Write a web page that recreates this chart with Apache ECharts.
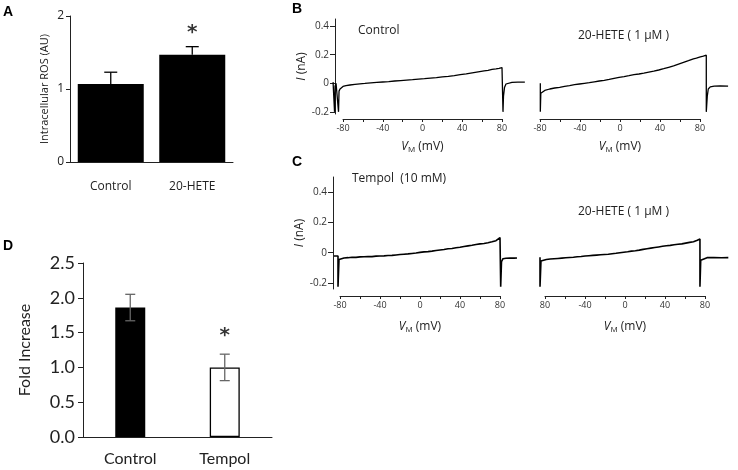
<!DOCTYPE html>
<html>
<head>
<meta charset="utf-8">
<script src="https://cdn.jsdelivr.net/npm/echarts@6/dist/echarts.min.js"></script>
<style>
html, body { margin: 0; padding: 0; background: #fff; }
#main { width: 738px; height: 470px; }
</style>
</head>
<body>
<div id="main"></div>
<script>
// panel A - intracellular ROS
var rosCats = ['Control', '20-HETE'];
var rosMean = [1.07, 1.47];
var rosErr = [0.16, 0.11];
var rosStar = [null, 1.77];

// panel D - fold increase
var foldCats = ['Control', 'Tempol'];
var foldMean = [1.86, 1.00];
var foldErr = [0.19, 0.19];
var foldStar = [null, 1.46];

// panels B, C - current traces, [mV, nA]
var vTicks = [-80, -60, -40, -20, 0, 20, 40, 60, 80];
var vLabels = [-80, -40, 0, 40, 80];
var iTicks = [-0.2, 0, 0.2, 0.4];

var traceCtrl = [[-90,0.008],[-88.5,0.006],[-88.5,-0.2],[-88,-0.02],[-87,0.0],[-85,0.002],[-84.5,-0.2],[-84,-0.055],[-83,-0.04],[-82,-0.03],[-80,-0.022],[-77,-0.016],[-73,-0.012],[-68,-0.008],[-63,-0.004],[-58,-0.001],[-52,0.003],[-46,0.006],[-40,0.009],[-34,0.012],[-28,0.016],[-22,0.019],[-16,0.022],[-10,0.025],[-4,0.029],[2,0.032],[8,0.036],[14,0.040],[20,0.045],[26,0.049],[32,0.054],[38,0.060],[44,0.066],[50,0.073],[56,0.080],[62,0.087],[66,0.091],[70,0.097],[74,0.101],[77,0.105],[80,0.11],[81,0.112],[81,-0.2],[81.5,-0.09],[82.5,-0.03],[84,-0.005],[86,0.003],[90,0.007],[96,0.008],[103,0.008]];
var traceHete = [[-79.5,0.0],[-79.5,-0.2],[-79,-0.07],[-78,-0.058],[-75,-0.05],[-70,-0.04],[-65,-0.033],[-60,-0.028],[-55,-0.021],[-50,-0.016],[-45,-0.01],[-40,-0.005],[-35,0.0],[-30,0.004],[-25,0.01],[-20,0.016],[-15,0.021],[-10,0.027],[-5,0.035],[0,0.042],[5,0.047],[10,0.053],[15,0.06],[20,0.065],[25,0.071],[30,0.078],[35,0.085],[40,0.093],[45,0.102],[50,0.112],[55,0.122],[60,0.134],[65,0.146],[70,0.158],[75,0.171],[78,0.176],[82,0.185],[85,0.19],[88,0.197],[88,-0.2],[89,-0.09],[90,-0.04],[92,-0.025],[96,-0.02],[102,-0.019],[110,-0.02]];
var traceTempol = [[-86,-0.022],[-82,-0.022],[-82,-0.225],[-81,-0.045],[-80,-0.04],[-76,-0.035],[-72,-0.033],[-68,-0.03],[-64,-0.031],[-60,-0.028],[-56,-0.027],[-52,-0.025],[-48,-0.026],[-44,-0.023],[-40,-0.022],[-36,-0.021],[-32,-0.019],[-28,-0.018],[-24,-0.015],[-20,-0.012],[-16,-0.01],[-12,-0.008],[-8,-0.005],[-4,-0.002],[0,0.002],[4,0.005],[8,0.007],[12,0.01],[16,0.014],[20,0.018],[24,0.021],[28,0.026],[32,0.028],[36,0.033],[40,0.036],[44,0.041],[48,0.045],[52,0.049],[56,0.054],[60,0.058],[62,0.064],[64,0.061],[66,0.068],[68,0.066],[70,0.074],[72,0.072],[74,0.082],[76,0.079],[78,0.092],[80,0.1],[80.7,0.095],[80.7,-0.225],[81.5,-0.06],[83,-0.04],[86,-0.037],[90,-0.035],[94,-0.036],[97,-0.035]];
var traceTempolHete = [[-84.5,-0.03],[-84.5,-0.225],[-83.5,-0.055],[-82,-0.05],[-78,-0.045],[-74,-0.042],[-70,-0.04],[-66,-0.038],[-62,-0.036],[-58,-0.034],[-54,-0.032],[-50,-0.03],[-46,-0.027],[-42,-0.025],[-38,-0.022],[-34,-0.02],[-30,-0.018],[-26,-0.016],[-22,-0.014],[-18,-0.012],[-14,-0.01],[-10,-0.007],[-6,-0.004],[-2,0.0],[2,0.003],[6,0.006],[10,0.01],[14,0.013],[18,0.017],[22,0.022],[26,0.026],[30,0.03],[34,0.034],[38,0.038],[42,0.042],[46,0.046],[50,0.048],[54,0.052],[58,0.056],[62,0.058],[66,0.063],[68,0.062],[70,0.068],[72,0.066],[74,0.072],[76,0.075],[78,0.082],[80,0.088],[80.7,0.09],[80.7,-0.225],[81.5,-0.05],[83,-0.037],[88,-0.033],[95,-0.032],[103,-0.034],[110,-0.033]];

var sans = '"Open Sans", sans-serif';
var dFont = 'Lato, sans-serif';

// trace panels: visible axis box (-80..80 mV) and a wider hidden box for the trace itself
var panels = [
    { left: 343, top: 19, width: 159, height: 95, yMin: -0.215, yMax: 0.45, xOff: 5, xGap: 21, yOff: 8, yShow: true, data: traceCtrl, lw: 1.3 },
    { left: 540, top: 19, width: 160, height: 95, yMin: -0.215, yMax: 0.45, xOff: 5, xGap: 21, yOff: 8, yShow: false, data: traceHete, lw: 1.3 },
    { left: 340, top: 177, width: 160, height: 112, yMin: -0.24, yMax: 0.5, xOff: 7, xGap: 24, yOff: 7, yShow: true, data: traceTempol, lw: 1.6 },
    { left: 545, top: 177, width: 160, height: 112, yMin: -0.24, yMax: 0.5, xOff: 7, xGap: 24, yOff: 7, yShow: false, data: traceTempolHete, lw: 1.6,
      fmt: function (v) { return v === -80 ? '80' : String(v); } }
];
var traceMin = -100, traceMax = 120;

// error bars: vertical stem + caps
function errBar(color, cap, both) {
    return function (params, api) {
        var c = api.value(0), m = api.value(1), e = api.value(2);
        var top = api.coord([c, m + e]);
        var bot = api.coord([c, both ? m - e : m]);
        var w = cap / 2;
        var st = { stroke: color, lineWidth: 1.3 };
        var kids = [
            { type: 'line', shape: { x1: top[0], y1: top[1], x2: bot[0], y2: bot[1] }, style: st },
            { type: 'line', shape: { x1: top[0] - w, y1: top[1], x2: top[0] + w, y2: top[1] }, style: st }
        ];
        if (both) kids.push({ type: 'line', shape: { x1: bot[0] - w, y1: bot[1], x2: bot[0] + w, y2: bot[1] }, style: st });
        return { type: 'group', children: kids };
    };
}

function star(idx, vals) {
    return {
        type: 'scatter', xAxisIndex: idx, yAxisIndex: idx, symbolSize: 2, z: 6,
        itemStyle: { color: 'rgba(0,0,0,0)' },
        label: { show: true, position: 'inside', formatter: '*', fontFamily: 'DejaVu Sans', fontWeight: 'bold', fontSize: 20, color: '#000' },
        data: vals.map(function (v, i) { return v == null ? null : [i, v]; }).filter(Boolean)
    };
}

var grids = [
    { left: 70, top: 16, width: 163, height: 146 },
    { left: 83, top: 263, width: 189, height: 174 }
];
var xAxes = [
    {
        type: 'category', gridIndex: 0, data: rosCats,
        axisLine: { lineStyle: { color: '#222' } }, axisTick: { show: false },
        axisLabel: { fontFamily: sans, fontSize: 12, color: '#222', margin: 19 }
    },
    {
        type: 'category', gridIndex: 1, data: foldCats,
        axisLine: { lineStyle: { color: '#222' } }, axisTick: { show: false },
        axisLabel: { fontFamily: dFont, fontSize: 16, color: '#222', margin: 14 }
    }
];
var yAxes = [
    {
        type: 'value', gridIndex: 0, min: 0, max: 2, interval: 1,
        name: 'Intracellular ROS (AU)', nameLocation: 'middle', nameGap: 20,
        nameTextStyle: { fontFamily: sans, fontSize: 11, color: '#222' },
        splitLine: { show: false },
        axisLine: { show: true, lineStyle: { color: '#222' } },
        axisTick: { show: true, length: 4, lineStyle: { color: '#222' } },
        axisLabel: { fontFamily: sans, fontSize: 12, color: '#222', margin: 6 }
    },
    {
        type: 'value', gridIndex: 1, min: 0, max: 2.5, interval: 0.5,
        name: 'Fold Increase', nameLocation: 'middle', nameGap: 50,
        nameTextStyle: { fontFamily: dFont, fontSize: 16, color: '#222' },
        splitLine: { show: false },
        axisLine: { show: true, lineStyle: { color: '#222' } },
        axisTick: { show: true, length: 5, lineStyle: { color: '#222' } },
        axisLabel: { fontFamily: dFont, fontSize: 18, color: '#222', margin: 8, formatter: function (v) { return v.toFixed(1); } }
    }
];
var series = [
    {
        type: 'bar', xAxisIndex: 0, yAxisIndex: 0, data: rosMean, barWidth: 66,
        itemStyle: { color: '#000' }
    },
    {
        type: 'custom', xAxisIndex: 0, yAxisIndex: 0, z: 5,
        renderItem: errBar('#000', 13, false),
        data: rosMean.map(function (m, i) { return [i, m, rosErr[i]]; })
    },
    star(0, rosStar),
    {
        type: 'bar', xAxisIndex: 1, yAxisIndex: 1, barWidth: 30,
        data: foldMean.map(function (m, i) {
            return { value: m, itemStyle: i === 0 ? { color: '#000' } : { color: '#fff', borderColor: '#000', borderWidth: 1.3 } };
        })
    },
    {
        type: 'custom', xAxisIndex: 1, yAxisIndex: 1, z: 5,
        renderItem: errBar('#666', 10, true),
        data: foldMean.map(function (m, i) { return [i, m, foldErr[i]]; })
    },
    star(1, foldStar)
];

panels.forEach(function (p) {
    var gi = grids.length;
    var k = p.width / 160;
    // visible axes
    grids.push({ left: p.left, top: p.top, width: p.width, height: p.height });
    xAxes.push({
        type: 'value', gridIndex: gi, min: -80, max: 80, offset: p.xOff,
        name: '{v|V}{m|M}{u| (mV)}', nameLocation: 'middle', nameGap: p.xGap,
        nameTextStyle: {
            rich: {
                v: { fontFamily: sans, fontSize: 12, fontStyle: 'italic', color: '#222' },
                m: { fontFamily: sans, fontSize: 8, color: '#222', padding: [6, 0, 0, 0] },
                u: { fontFamily: sans, fontSize: 12, color: '#222' }
            }
        },
        splitLine: { show: false },
        axisLine: { onZero: false, lineStyle: { color: '#222', width: 1 } },
        axisTick: { customValues: vTicks, length: 3, lineStyle: { color: '#222' } },
        axisLabel: { customValues: vLabels, fontFamily: sans, fontSize: 9, color: '#333', margin: 5,
            formatter: p.fmt || function (v) { return String(v); } }
    });
    yAxes.push({
        type: 'value', gridIndex: gi, min: p.yMin, max: p.yMax, offset: p.yOff, show: p.yShow,
        name: '{i|I} (nA)', nameLocation: 'middle', nameGap: 20,
        nameTextStyle: { fontFamily: sans, fontSize: 12, color: '#222',
            rich: { i: { fontFamily: sans, fontSize: 12, fontStyle: 'italic', color: '#222' } } },
        splitLine: { show: false },
        axisLine: { show: true, onZero: false, lineStyle: { color: '#222', width: 1 } },
        axisTick: { customValues: iTicks, length: 5, lineStyle: { color: '#222' } },
        axisLabel: { customValues: iTicks, fontFamily: sans, fontSize: 10, color: '#333', margin: 6 }
    });
    // hidden wider box holding the trace (pre- and post-ramp segments)
    var ti = gi + 1;
    grids.push({ left: p.left + (traceMin + 80) * k, top: p.top, width: (traceMax - traceMin) * k, height: p.height });
    xAxes.push({ type: 'value', gridIndex: ti, min: traceMin, max: traceMax, show: false });
    yAxes.push({ type: 'value', gridIndex: ti, min: p.yMin, max: p.yMax, show: false });
    series.push({
        type: 'line', xAxisIndex: ti, yAxisIndex: ti, data: p.data,
        showSymbol: false, animation: false,
        lineStyle: { color: '#000', width: p.lw }
    });
});

var chart = echarts.init(document.getElementById('main'));
chart.setOption({
    animation: false,
    grid: grids,
    xAxis: xAxes,
    yAxis: yAxes,
    series: series,
    graphic: [
        { type: 'text', left: 3, top: 5, style: { text: 'A', font: 'bold 14px "Liberation Sans", Arial', fill: '#000' } },
        { type: 'text', left: 292, top: 2, style: { text: 'B', font: 'bold 14px "Liberation Sans", Arial', fill: '#000' } },
        { type: 'text', left: 292, top: 155, style: { text: 'C', font: 'bold 14px "Liberation Sans", Arial', fill: '#000' } },
        { type: 'text', left: 3, top: 239, style: { text: 'D', font: 'bold 14px "Liberation Sans", Arial', fill: '#000' } },
        { type: 'text', left: 358, top: 25, style: { text: 'Control', font: '12px "Open Sans"', fill: '#222' } },
        { type: 'text', left: 578, top: 30, style: { text: '20-HETE ( 1 \u00b5M )', font: '12px "Open Sans"', fill: '#222' } },
        { type: 'text', left: 352, top: 173, style: { text: 'Tempol  (10 mM)', font: '12px "Open Sans"', fill: '#222' } },
        { type: 'text', left: 578, top: 206, style: { text: '20-HETE ( 1 \u00b5M )', font: '12px "Open Sans"', fill: '#222' } }
    ]
});
</script>
</body>
</html>
